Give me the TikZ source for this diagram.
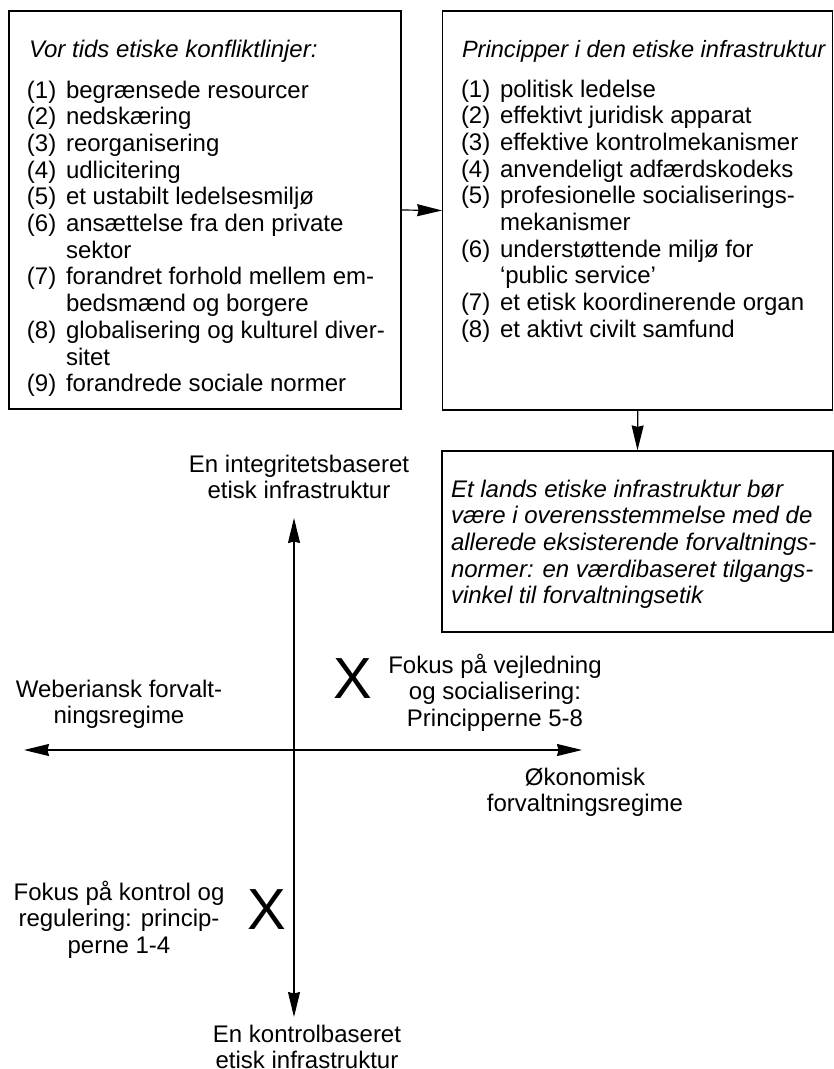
\documentclass[tikz,border=0pt]{standalone}
\usepackage{fontspec}
\setmainfont{Liberation Sans}
\usetikzlibrary{arrows.meta}

% centred stack of lines whose reference point is the first baseline
\newcommand\stacklines[1]{\begin{tabular}[t]{@{}c@{}}#1\end{tabular}}
% left-aligned stack of lines
\newcommand\leftlines[1]{\begin{tabular}[t]{@{}l@{}}#1\end{tabular}}
% numbered list: number column, then item text
\newcommand\numlist[1]{\begin{tabular}[t]{@{}l@{\hspace{9.7pt}}l@{}}#1\end{tabular}}

\begin{document}
\begin{tikzpicture}[x=1pt,y=-1pt,
  every node/.style={inner sep=0pt, outer sep=0pt, font=\fontsize{24}{26.7}\selectfont},
  frame/.style={draw, line width=1.2pt, rectangle, outer sep=0.6pt},
  arr/.style={line width=1.2pt, -{Stealth[length=25pt,width=12pt,inset=1.5pt]}},
  biarr/.style={line width=1.2pt, {Stealth[length=25pt,width=12pt,inset=1.5pt]}-{Stealth[length=25pt,width=12pt,inset=1.5pt]}},
  heading/.style={anchor=base west, font=\fontsize{24}{26.7}\selectfont\itshape},
  listtext/.style={anchor=base west},
  label/.style={anchor=base},
  cross/.style={font=\fontsize{58}{60}\selectfont}
]
\useasboundingbox (0,0) rectangle (834,1069);

% the three boxes
\node[frame, minimum width=392pt, minimum height=398pt] (conflicts) at (205,210) {};
\node[frame, minimum width=390pt, minimum height=399pt] (principles) at (637.75,210.5) {};
\node[frame, minimum width=391pt, minimum height=181pt] (verdict) at (637.5,541.5) {};

% contents of the left box
\node[heading] (conflicts-title) at (29,57) {Vor tids etiske konfliktlinjer:};
\node[listtext] (conflicts-list) at (27,98) {\numlist{%
(1)&begrænsede resourcer\\
(2)&nedskæring\\
(3)&reorganisering\\
(4)&udlicitering\\
(5)&et ustabilt ledelsesmiljø\\
(6)&ansættelse fra den private\\
   &sektor\\
(7)&forandret forhold mellem em-\\
   &bedsmænd og borgere\\
(8)&globalisering og kulturel diver-\\
   &sitet\\
(9)&forandrede sociale normer}};

% contents of the right box
\node[heading, font=\fontsize{23.6}{26.7}\selectfont\itshape] (principles-title) at (462,57) {Principper i den etiske infrastruktur};
\node[listtext] (principles-list) at (461,97) {\numlist{%
(1)&politisk ledelse\\
(2)&effektivt juridisk apparat\\
(3)&effektive kontrolmekanismer\\
(4)&anvendeligt adfærdskodeks\\
(5)&profesionelle socialiserings-\\
   &mekanismer\\
(6)&understøttende miljø for\\
   &‘public service’\\
(7)&et etisk koordinerende organ\\
(8)&et aktivt civilt samfund}};

% contents of the lower box
\node[heading] (verdict-text) at (451,497) {\leftlines{%
Et lands etiske infrastruktur bør\\
være i overensstemmelse med de\\
allerede eksisterende forvaltnings-\\
normer: en værdibaseret tilgangs-\\
vinkel til forvaltningsetik}};

% connectors between the boxes
\draw[arr] (conflicts.east) -- (principles.west);
\draw[arr] (principles.south) -- (verdict.north);

% the two axes
\coordinate (axis-up) at (294,518);
\coordinate (axis-down) at (294,1017);
\coordinate (axis-left) at (24,750);
\coordinate (axis-right) at (582,750);
\draw[biarr] (axis-down) -- (axis-up);
\draw[biarr] (axis-left) -- (axis-right);

% axis labels
\node[label] (integrity) at (299,472) {\stacklines{En integritetsbaseret\\etisk infrastruktur}};
\node[label] (weberian) at (119,697) {\stacklines{Weberiansk forvalt-\\ningsregime}};
\node[label] (economic) at (585,785) {\stacklines{Økonomisk\\forvaltningsregime}};
\node[label] (control) at (307,1042) {\stacklines{En kontrolbaseret\\etisk infrastruktur}};

% quadrant marks and their notes
\node[cross] (mark-upper) at (353,679) {X};
\node[label] (guidance) at (495,673) {\stacklines{Fokus på vejledning\\og socialisering:\\Principperne 5-8}};
\node[cross] (mark-lower) at (267,910) {X};
\node[label] (regulation) at (119,900) {\stacklines{Fokus på kontrol og\\regulering: princip-\\perne 1-4}};
\end{tikzpicture}
\end{document}
